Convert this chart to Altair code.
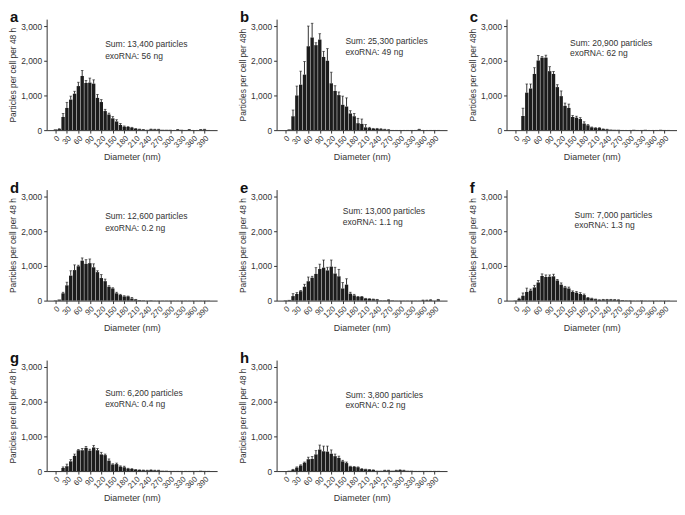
import altair as alt
import pandas as pd

diameters = list(range(0, 410, 10))

a_val = [20,30,380,640,880,1050,1270,1560,1360,1370,1340,930,810,550,450,340,250,150,100,90,70,40,25,15,10,25,20,20,10,10,10,5,15,10,5,15,5,5,15,20,5]
a_err = [0,10,100,160,100,70,110,160,70,130,110,100,70,50,40,50,50,40,20,10,10,5,5,5,0,5,5,5,0,0,0,0,5,0,0,5,0,0,5,5,0]

b_val = [0,20,400,1000,1310,1600,2420,2670,2450,2610,2110,2000,1350,1130,1010,730,680,480,400,200,180,80,60,40,40,30,20,10,5,5,5,5,5,5,5,20,5,5,5,5,5]
b_err = [0,0,180,270,390,380,580,410,70,170,160,350,320,150,90,250,250,80,80,140,140,80,20,10,10,10,5,5,0,0,0,0,0,0,0,5,0,0,0,0,0]

c_val = [0,0,410,1080,1200,1620,2010,2090,2090,1700,1620,1240,980,700,640,380,360,320,190,140,80,60,60,30,20,15,10,10,5,5,5,10,5,5,10,5,5,5,10,5,5]
c_err = [0,0,220,250,130,180,140,30,70,130,70,70,150,80,110,40,40,40,50,20,10,10,10,5,5,0,0,0,0,0,0,0,0,0,0,0,0,0,0,0,0]

d_val = [10,30,210,440,720,880,990,1150,1060,1080,960,820,650,560,400,350,210,160,120,120,60,30,15,10,5,10,5,5,5,5,5,5,5,5,5,5,5,5,5,5,5]
d_err = [0,0,30,90,140,150,30,80,120,120,100,40,100,60,30,20,30,20,20,10,30,5,0,0,0,0,0,0,0,0,0,0,0,0,0,0,0,0,0,0,0]

e_val = [10,20,130,190,270,400,560,660,770,910,950,870,980,780,700,350,460,200,150,110,110,60,50,40,30,10,10,20,10,5,5,5,5,5,5,5,10,10,20,5,30]
e_err = [0,0,70,40,20,70,120,40,180,140,220,90,190,180,200,170,170,40,30,10,10,5,5,5,5,0,0,5,0,0,0,0,0,0,0,0,5,5,5,0,5]

f_val = [10,50,140,250,290,380,520,710,680,690,700,580,460,380,350,250,230,190,160,80,60,40,20,30,30,30,25,20,15,10,10,5,5,10,5,5,5,5,5,5,5]
f_err = [0,20,80,110,40,60,60,60,60,50,60,30,50,30,40,30,30,40,30,10,10,5,5,5,5,5,5,5,0,0,0,0,0,0,0,0,0,0,0,0,0]

g_val = [0,0,90,140,280,440,600,600,670,590,680,600,480,460,300,190,200,130,110,70,60,40,30,25,20,30,20,20,10,10,5,5,5,5,5,5,5,5,10,5,5]
g_err = [0,0,30,60,50,50,20,50,40,40,60,50,60,30,50,20,30,20,30,10,10,5,5,5,5,5,5,5,0,0,0,0,0,0,0,0,0,0,0,0,0]

h_val = [0,10,40,100,160,240,340,350,480,620,570,560,500,430,380,280,230,130,120,110,60,50,40,30,10,10,20,20,10,20,30,20,10,10,5,5,5,5,5,5,5]
h_err = [0,0,10,20,20,20,60,70,110,130,150,160,110,60,50,30,30,10,10,10,10,5,5,5,0,0,5,5,0,5,5,5,0,0,0,0,0,0,0,0,0]

letters = ["a", "b", "c", "d", "e", "f", "g", "h"]
sum_texts = ["Sum: 13,400 particles", "Sum: 25,300 particles", "Sum: 20,900 particles",
             "Sum: 12,600 particles", "Sum: 13,000 particles", "Sum: 7,000 particles",
             "Sum: 6,200 particles", "Sum: 3,800 particles"]
rna_texts = ["exoRNA: 56 ng", "exoRNA: 49 ng", "exoRNA: 62 ng", "exoRNA: 0.2 ng",
             "exoRNA: 1.1 ng", "exoRNA: 1.3 ng", "exoRNA: 0.4 ng", "exoRNA: 0.2 ng"]
text_x = [130, 157, 143, 130, 150, 155, 130, 157]
text_y1 = [2470, 2560, 2510, 2430, 2575, 2480, 2240, 2190]
text_y2 = [2150, 2260, 2210, 2100, 2260, 2180, 1930, 1900]
y_titles = ["Particles per cell per 48 h", "Particles per cell per 48h", "Particles per cell per 48h",
            "Particles per cell per 48 h", "Particles per cell per 48 h", "Particles per cell per 48 h",
            "Particles per cell per 48 h", "Particles per cell per 48 h"]
x_ticks = list(range(0, 391, 30))
y_ticks = [0, 1000, 2000, 3000]

values = [a_val, b_val, c_val, d_val, e_val, f_val, g_val, h_val]
errors = [a_err, b_err, c_err, d_err, e_err, f_err, g_err, h_err]

INK = "#1c1c1c"
W, H = 172, 112
XS = alt.Scale(domain=[-10, 410], nice=False, zero=False)
YS = alt.Scale(domain=[0, 3200], nice=False)


def panel(i):
    df = pd.DataFrame({"d": diameters, "v": values[i], "e": errors[i]})
    df["top"] = df["v"] + df["e"]
    xax = alt.Axis(values=x_ticks, labelAngle=-45, title="Diameter (nm)", grid=False,
                   labelFontSize=8, titleFontSize=9, titleFontWeight="normal",
                   labelOverlap=False, labelFlush=False,
                   tickSize=3, labelPadding=1, titlePadding=4, domainColor="#333",
                   tickColor="#333", labelColor="#333", titleColor="#333")
    yax = alt.Axis(values=y_ticks, format=",d", title=y_titles[i], grid=False,
                   labelFontSize=8.5, titleFontSize=8.5, titleFontWeight="normal",
                   labelOverlap=False, labelFlush=False,
                   tickSize=3, labelPadding=2, titlePadding=3, domainColor="#333",
                   tickColor="#333", labelColor="#333", titleColor="#333")
    X = lambda f: alt.X(f, scale=XS, axis=xax)
    Y = lambda f: alt.Y(f, scale=YS, axis=yax)
    base = alt.Chart(df)
    bars = base.mark_bar(size=3.4, color=INK).encode(x=X("d:Q"), y=Y("v:Q"))
    errs = base.transform_filter("datum.e > 0").mark_rule(color=INK, strokeWidth=0.9).encode(
        x=X("d:Q"), y=Y("v:Q"), y2="top:Q")
    caps = base.transform_filter("datum.e > 0").mark_tick(
        orient="horizontal", size=2.6, thickness=0.9, color=INK).encode(
        x=X("d:Q"), y=Y("top:Q"))
    tdf = pd.DataFrame({"d": [text_x[i], text_x[i]], "v": [text_y1[i], text_y2[i]],
                        "t": [sum_texts[i], rna_texts[i]]})
    txt = alt.Chart(tdf).mark_text(align="left", baseline="middle", fontSize=8.6, color="#333").encode(
        x=X("d:Q"), y=Y("v:Q"), text="t:N")
    ldf = pd.DataFrame({"t": [letters[i]]})
    let = alt.Chart(ldf).mark_text(align="left", baseline="alphabetic", fontSize=15,
                                   fontWeight="bold", color="#111").encode(
        x=alt.value(-37), y=alt.value(3), text="t:N")
    return alt.layer(bars, errs, caps, txt, let).properties(width=W, height=H)


row1 = alt.hconcat(panel(0), panel(1), panel(2), spacing=21)
row2 = alt.hconcat(panel(3), panel(4), panel(5), spacing=21)
row3 = alt.hconcat(panel(6), panel(7), spacing=21)
chart = alt.vconcat(row1, row2, row3, spacing=18).properties(padding=0).configure(
    font="Liberation Sans").configure_view(stroke=None)

chart.save("out.html", embed_options={"renderer": "svg", "actions": False})
